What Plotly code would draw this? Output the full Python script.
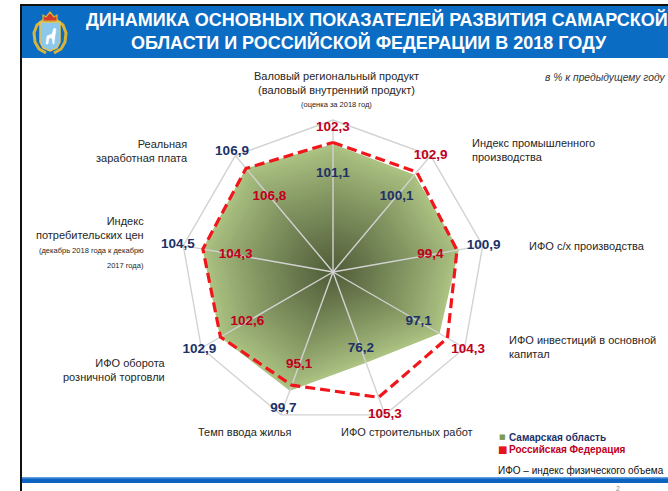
import numpy as np
import plotly.graph_objects as go

# ---------------- data ----------------
categories = [
    "Валовый региональный продукт",
    "Индекс промышленного производства",
    "ИФО с/х производства",
    "ИФО инвестиций в основной капитал",
    "ИФО строительных работ",
    "Темп ввода жилья",
    "ИФО оборота розничной торговли",
    "Индекс потребительских цен",
    "Реальная заработная плата",
]
samara = [101.1, 100.1, 100.9, 97.1, 76.2, 99.7, 102.9, 104.5, 106.9]
russia = [102.3, 102.9, 99.4, 104.3, 105.3, 95.1, 102.6, 104.3, 106.8]
series_names = ["Самарская область", "Российская Федерация"]
grid_max = 120      # outer ring of the web
r_view = 135        # radial room for the outer value labels

# ---------------- style ----------------
W, H = 668, 491
FONT = "Liberation Sans, Arial, sans-serif"
NAVY = "#1d3167"
DARKRED = "#c0001c"
RED = "#f0161c"
TXT = "#262626"
GRID = "#d2d2d2"


def px(x, y):
    return x / W, 1 - y / H


def fmt(v):
    return f"{v:.1f}".replace(".", ",")


def mix(c1, c2, t):
    a = np.array([int(c1[i:i + 2], 16) for i in (1, 3, 5)])
    b = np.array([int(c2[i:i + 2], 16) for i in (1, 3, 5)])
    c = a + (b - a) * t
    return "rgb(%d,%d,%d)" % tuple(c.round().astype(int))


fig = go.Figure()
theta_closed = categories + [categories[0]]

# outer ring of the web
fig.add_trace(go.Scatterpolar(
    r=[grid_max] * (len(categories) + 1), theta=theta_closed, mode="lines",
    line=dict(color=GRID, width=1.4), hoverinfo="skip", showlegend=False,
))

# gradient fill of the Samara polygon (nested copies from edge to centre)
EDGE, CENTER = "#abc282", "#4e5b37"
steps = 36
for k in range(steps):
    f = 1 - k / steps
    fig.add_trace(go.Scatterpolar(
        r=[v * f for v in samara + [samara[0]]],
        theta=theta_closed,
        mode="lines", fill="toself",
        fillcolor=mix(EDGE, CENTER, (1 - f) ** 0.9),
        line=dict(width=0, color="rgba(0,0,0,0)"),
        hoverinfo="skip", showlegend=False,
    ))

# spokes above the fill
sp_r, sp_t = [], []
for c in categories:
    sp_r += [0, grid_max, None]
    sp_t += [c, c, None]
fig.add_trace(go.Scatterpolar(
    r=sp_r, theta=sp_t, mode="lines",
    line=dict(color=GRID, width=1.4),
    hoverinfo="skip", showlegend=False, connectgaps=False,
))

# Russian Federation dashed line
fig.add_trace(go.Scatterpolar(
    r=russia + [russia[0]], theta=theta_closed, mode="lines",
    line=dict(color=RED, width=3.2, dash="10px,5px"),
    name=series_names[1], showlegend=False, hoverinfo="skip",
))

# value labels: larger value outside, smaller inside
s_r, r_r = [], []
for i, (s, ru) in enumerate(zip(samara, russia)):
    ang = np.deg2rad(90 - 40 * i)
    out = max(s, ru) + 12 + 8 * abs(np.cos(ang))
    inn = min(78, min(s, ru) - 12)
    if s >= ru:
        s_r.append(out); r_r.append(inn)
    else:
        s_r.append(inn); r_r.append(out)

fig.add_trace(go.Scatterpolar(
    r=s_r, theta=categories, mode="text",
    text=[f"<b>{fmt(v)}</b>" for v in samara],
    textfont=dict(family=FONT, size=13.5, color=NAVY),
    cliponaxis=False, showlegend=False, hoverinfo="skip",
))
fig.add_trace(go.Scatterpolar(
    r=r_r, theta=categories, mode="text",
    text=[f"<b>{fmt(v)}</b>" for v in russia],
    textfont=dict(family=FONT, size=13.5, color=DARKRED),
    cliponaxis=False, showlegend=False, hoverinfo="skip",
))

cx, cy, R_ring = 333, 272, 152
R = R_ring * r_view / grid_max
fig.update_layout(
    width=W, height=H,
    margin=dict(l=0, r=0, t=0, b=0),
    paper_bgcolor="white",
    font=dict(family=FONT, color=TXT),
    showlegend=False,
    polar=dict(
        domain=dict(x=[(cx - R) / W, (cx + R) / W],
                    y=[1 - (cy + R) / H, 1 - (cy - R) / H]),
        gridshape="linear",
        bgcolor="rgba(0,0,0,0)",
        radialaxis=dict(range=[0, r_view], visible=False),
        angularaxis=dict(
            categoryarray=categories, type="category",
            rotation=90, direction="clockwise",
            showticklabels=False, ticks="", showgrid=False, showline=False,
        ),
    ),
)

# ---------------- axis labels ----------------
LS = 11
lab = [
    ("Валовый региональный продукт<br>(валовый внутренний продукт)", 336, 83, "center", LS),
    ("(оценка за 2018 год)", 336, 105, "center", 7.5),
    ("Индекс промышленного<br>производства", 470, 150, "left", LS),
    ("ИФО с/х производства", 527, 246, "left", LS),
    ("ИФО инвестиций в основной<br>капитал", 507, 347, "left", LS),
    ("ИФО строительных работ", 407, 432, "center", LS),
    ("Темп ввода жилья", 244, 432, "center", LS),
    ("ИФО оборота<br>розничной торговли", 168, 370, "right", LS),
    ("Индекс<br>потребительских цен", 146, 228, "right", LS),
    ("(декабрь 2018 года к декабрю", 146, 250, "right", 7.5),
    ("2017 года)", 146, 265, "right", 7.5),
    ("Реальная<br>заработная плата", 190, 151, "right", LS),
]
ann = []
for t, x, y, xa, sz in lab:
    ax, ay = px(x, y)
    ann.append(dict(text=t, x=ax, y=ay, xref="paper", yref="paper",
                    xanchor=xa, yanchor="middle", align=xa, showarrow=False,
                    font=dict(family=FONT, size=sz, color=TXT)))

# title
for t, x, y in [("ДИНАМИКА ОСНОВНЫХ ПОКАЗАТЕЛЕЙ РАЗВИТИЯ САМАРСКОЙ", 377, 20),
                ("ОБЛАСТИ И РОССИЙСКОЙ ФЕДЕРАЦИИ В 2018 ГОДУ", 369, 43)]:
    ax, ay = px(x, y)
    ann.append(dict(text=f"<b>{t}</b>", x=ax, y=ay, xref="paper", yref="paper",
                    xanchor="center", yanchor="middle", showarrow=False,
                    font=dict(family=FONT, size=18, color="white")))

# subtitle
ax, ay = px(543, 78)
ann.append(dict(text="<i>в % к предыдущему году</i>", x=ax, y=ay, xref="paper", yref="paper",
                xanchor="left", yanchor="middle", showarrow=False,
                font=dict(family=FONT, size=10.3, color="#333333")))

# legend
for sym, ssz, scol, name, col, y in [("■", 7, "#7d9a55", series_names[0], NAVY, 437),
                                      ("■", 10, "#e8141c", series_names[1], DARKRED, 449)]:
    ax, ay = px(502, y)
    ann.append(dict(text=sym, x=ax, y=ay, xref="paper", yref="paper",
                    xanchor="center", yanchor="middle", showarrow=False,
                    font=dict(family="DejaVu Sans", size=ssz, color=scol)))
    ax, ay = px(507, y)
    ann.append(dict(text=f"<b>{name}</b>", x=ax, y=ay, xref="paper", yref="paper",
                    xanchor="left", yanchor="middle", showarrow=False,
                    font=dict(family=FONT, size=10, color=col)))
ax, ay = px(496, 470)
ann.append(dict(text="ИФО – индекс физического объема", x=ax, y=ay, xref="paper", yref="paper",
                xanchor="left", yanchor="middle", showarrow=False,
                font=dict(family=FONT, size=10, color="#111111")))
ax, ay = px(618, 488)
ann.append(dict(text="2", x=ax, y=ay, xref="paper", yref="paper",
                xanchor="center", yanchor="middle", showarrow=False,
                font=dict(family=FONT, size=7, color="#888888")))
fig.update_layout(annotations=ann)

# ---------------- slide decoration ----------------
def rect(x0, y0, x1, y1, color):
    a0, b0 = px(x0, y1)
    a1, b1 = px(x1, y0)
    return dict(type="rect", xref="paper", yref="paper", x0=a0, y0=b0, x1=a1, y1=b1,
                fillcolor=color, line=dict(width=0), layer="below")


def path(points, fill, line_color, lw=1, close=True):
    s = ""
    for i, (x, y) in enumerate(points):
        a, b = px(x, y)
        s += ("M" if i == 0 else "L") + f"{a:.5f},{b:.5f} "
    if close:
        s += "Z"
    return dict(type="path", xref="paper", yref="paper", path=s,
                fillcolor=fill, line=dict(color=line_color, width=lw), layer="above")


shapes = [
    rect(21, 5, 668, 58, "#0b6cc4"),
    rect(20, 4, 668, 6, "#111111"),
    rect(20, 4, 22, 491, "#111111"),
    rect(22, 477, 668, 483, "#0d63c0"),
    rect(22, 477, 668, 478.5, "#5c9ee0"),
]
wreath_l = [(44, 20), (37, 25), (34, 33), (35, 42), (39, 49), (46, 53)]
wreath_r = [(56, 20), (63, 25), (66, 33), (65, 42), (61, 49), (54, 53)]
shapes.append(path(wreath_l, "rgba(0,0,0,0)", "#d9b43a", 3, close=False))
shapes.append(path(wreath_r, "rgba(0,0,0,0)", "#d9b43a", 3, close=False))
shield = [(40, 22), (60, 22), (60, 42), (57, 48), (50, 51), (43, 48), (40, 42)]
shapes.append(path(shield, "#8cc8ec", "#e8c24a", 1.5))
crown = [(43, 21), (43, 15), (46, 17), (50, 12), (54, 17), (57, 15), (57, 21)]
shapes.append(path(crown, "#d23a2a", "#e0b030", 1.2))
deer = [(46, 44), (47, 36), (52, 34), (54, 28), (56, 29), (55, 36), (54, 44), (53, 44), (52, 38), (49, 38), (48, 44)]
shapes.append(path(deer, "white", "white", 0.5))
fig.update_layout(shapes=shapes)

fig.write_html(
    "out.html",
    config={"displayModeBar": False},
    post_script="document.body.style.margin='0';document.body.style.overflow='hidden';",
)
